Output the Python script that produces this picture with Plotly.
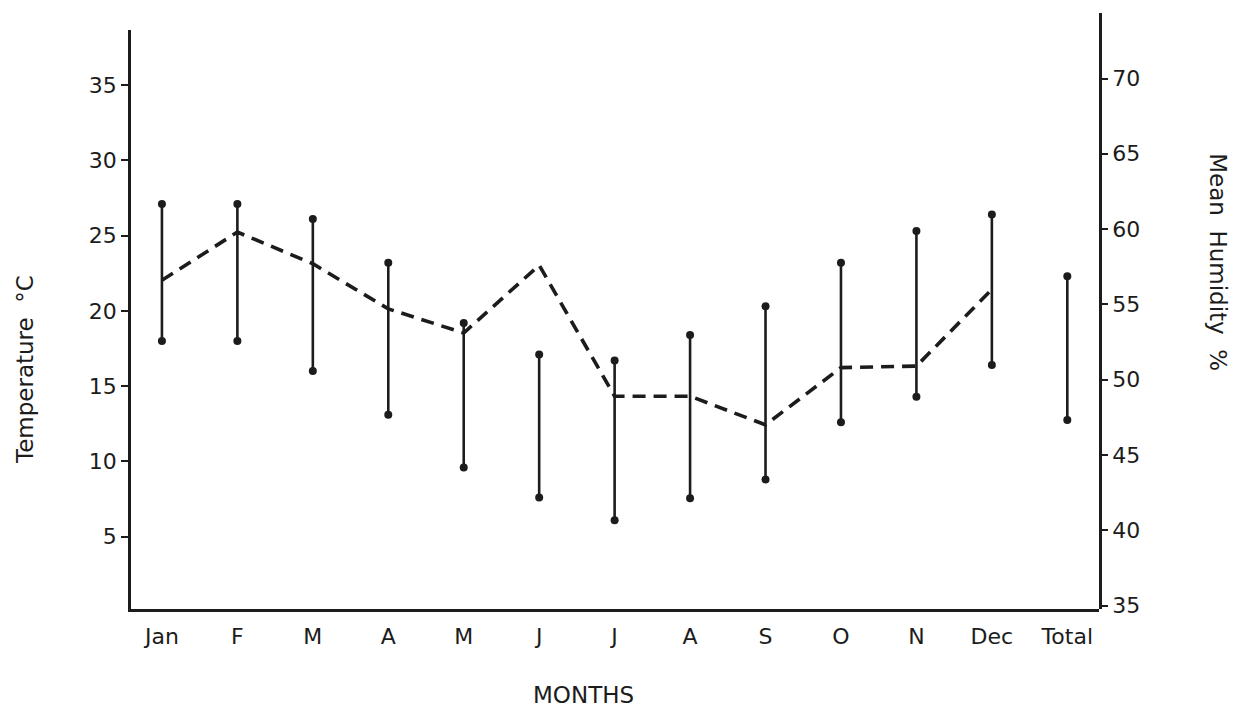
import plotly.graph_objects as go

months = ["Jan", "F", "M", "A", "M", "J", "J", "A", "S", "O", "N", "Dec", "Total"]
temp_max = [27.1, 27.1, 26.1, 23.2, 19.2, 17.1, 16.7, 18.4, 20.3, 23.2, 25.3, 26.4, 22.3]
temp_min = [18.0, 18.0, 16.0, 13.1, 9.6, 7.6, 6.1, 7.55, 8.8, 12.6, 14.3, 16.4, 12.75]
humidity = [56.6, 59.8, 57.7, 54.7, 53.1, 57.6, 48.9, 48.9, 47.0, 50.8, 50.9, 56.0]
temp_ticks = [5, 10, 15, 20, 25, 30, 35]
hum_ticks = [35, 40, 45, 50, 55, 60, 65, 70]

FONT = "DejaVu Sans"
INK = "#1c1c1c"

xs = list(range(len(months)))

bx, by = [], []
for i, lo, hi in zip(xs, temp_min, temp_max):
    bx += [i, i, None]
    by += [lo, hi, None]

fig = go.Figure()
fig.add_trace(go.Scatter(
    x=xs[:len(humidity)], y=humidity, mode="lines", xaxis="x", yaxis="y2",
    line=dict(color=INK, width=3.6, dash="13px,8px"),
    showlegend=False, hoverinfo="skip"))
fig.add_trace(go.Scatter(
    x=bx, y=by, mode="lines+markers", xaxis="x", yaxis="y",
    line=dict(color=INK, width=2.6),
    marker=dict(color=INK, size=8),
    showlegend=False, hoverinfo="skip"))

tickfont = dict(family=FONT, size=22, color=INK)
titlefont = dict(family=FONT, size=23, color=INK)

fig.update_layout(
    width=1232, height=701,
    margin=dict(l=123, r=141, t=5, b=100),
    paper_bgcolor="white", plot_bgcolor="rgba(0,0,0,0)",
    xaxis=dict(
        range=[-0.41, 12.42], tickvals=xs, ticktext=months,
        showgrid=False, zeroline=False, showline=True, linecolor=INK, linewidth=2.5,
        ticks="", tickfont=tickfont, ticklabelstandoff=6, anchor="y"),
    yaxis=dict(
        domain=[0, 0.9715], range=[0.2, 38.65], tickvals=temp_ticks,
        showgrid=False, zeroline=False, showline=True, linecolor=INK, linewidth=2.5,
        ticks="outside", ticklen=7, tickwidth=1.5, tickcolor=INK,
        tickfont=tickfont, anchor="x"),
    yaxis2=dict(
        domain=[0, 1], range=[34.77, 74.35], tickvals=hum_ticks, side="right",
        showgrid=False, zeroline=False, showline=True, linecolor=INK, linewidth=2.5,
        ticks="outside", ticklen=6, tickwidth=1.5, tickcolor=INK,
        tickfont=tickfont, anchor="x"),
    annotations=[
        dict(text="Temperature  °C", xref="paper", yref="paper", x=-0.1095, y=0.401,
             xanchor="center", yanchor="middle",
             textangle=-90, showarrow=False, font=titlefont),
        dict(text="Mean  Humidity  %", xref="paper", yref="paper", x=1.1229, y=0.582,
             xanchor="center", yanchor="middle",
             textangle=90, showarrow=False, font=titlefont),
        dict(text="MONTHS", xref="paper", yref="paper", x=0.467, y=-0.144,
             xanchor="center", yanchor="middle",
             showarrow=False, font=titlefont),
    ],
)

fig.write_html("out.html")
